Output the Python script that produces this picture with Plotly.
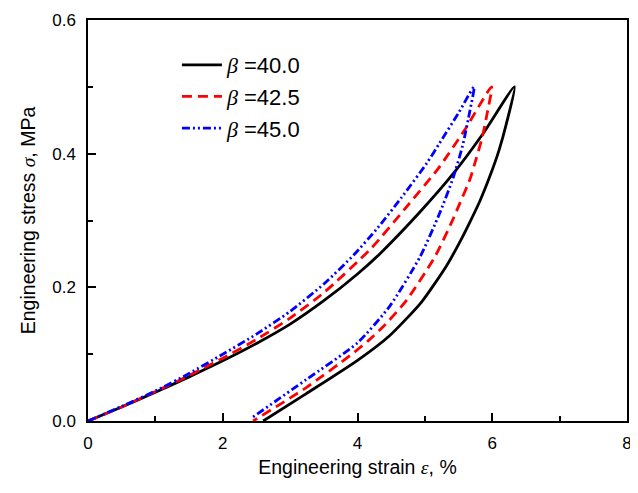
import plotly.graph_objects as go

# ---- data (engineering strain %, engineering stress MPa) ----
labels = ["40.0", "42.5", "45.0"]

# beta = 40.0
b40_load_x = [0, 0.5, 1, 1.5, 2, 2.5, 3, 3.5, 4.0, 4.33, 4.93, 5.42, 5.87, 6.33]
b40_load_y = [0, 0.021, 0.043, 0.066, 0.090, 0.116, 0.145, 0.180, 0.220, 0.250, 0.313, 0.370, 0.431, 0.500]
b40_unld_x = [6.33, 6.21, 6.10, 5.96, 5.82, 5.67, 5.52, 5.32, 4.95, 4.48, 3.99, 3.24, 2.60]
b40_unld_y = [0.500, 0.445, 0.405, 0.365, 0.330, 0.298, 0.268, 0.232, 0.178, 0.128, 0.090, 0.041, 0.0]

# beta = 42.5
b425_load_x = [0, 0.5, 1, 1.5, 2, 2.5, 3, 3.5, 4.2, 4.7, 5.2, 5.6, 5.99]
b425_load_y = [0, 0.021, 0.044, 0.068, 0.094, 0.122, 0.154, 0.192, 0.258, 0.317, 0.378, 0.437, 0.500]
b425_unld_x = [5.99, 5.92, 5.85, 5.74, 5.67, 5.52, 5.40, 5.15, 4.73, 4.38, 4.17, 3.89, 3.24, 2.45]
b425_unld_y = [0.500, 0.458, 0.424, 0.385, 0.362, 0.326, 0.298, 0.246, 0.181, 0.141, 0.121, 0.098, 0.050, 0.0]

# beta = 45.0
b45_load_x = [0, 0.5, 1, 1.5, 2, 2.5, 3, 3.5, 3.94, 4.3, 4.65, 5.03, 5.22, 5.5, 5.73]
b45_load_y = [0, 0.022, 0.045, 0.071, 0.100, 0.130, 0.164, 0.205, 0.248, 0.289, 0.334, 0.386, 0.416, 0.461, 0.500]
b45_unld_x = [5.73, 5.67, 5.56, 5.42, 5.22, 4.93, 4.48, 4.0, 3.24, 2.42]
b45_unld_y = [0.500, 0.465, 0.412, 0.364, 0.311, 0.246, 0.172, 0.117, 0.062, 0.004]

x_ticks = [0, 2, 4, 6, 8]
y_ticks = [0.0, 0.2, 0.4, 0.6]

series = [
    (labels[0], b40_load_x + b40_unld_x[1:], b40_load_y + b40_unld_y[1:], "black", "solid"),
    (labels[1], b425_load_x + b425_unld_x[1:], b425_load_y + b425_unld_y[1:], "#ff0000", "10px,6px"),
    (labels[2], b45_load_x + b45_unld_x[1:], b45_load_y + b45_unld_y[1:], "#0000ff",
     "8px,3px,2px,3px,2px,3px"),
]

fig = go.Figure()
for i, (lab, xs, ys, col, dash) in enumerate(series):
    fig.add_trace(go.Scatter(
        x=xs, y=ys, mode="lines",
        name="<span style='font-family:Liberation Serif'><i>β</i></span> =" + lab,
        line=dict(color=col, width=2.8, dash=dash, shape="spline", smoothing=0.6),
    ))

# the page body adds an 8px offset, so the figure is 8px smaller and margins compensate
font_fam = "Liberation Sans, Arial, sans-serif"
fig.update_layout(
    width=630, height=485,
    margin=dict(l=80, r=11, t=12, b=72),
    paper_bgcolor="white", plot_bgcolor="white",
    font=dict(family=font_fam, size=17, color="black"),
    showlegend=True,
    legend=dict(x=0.165, y=0.94, xanchor="left", yanchor="top",
                bgcolor="rgba(0,0,0,0)", font=dict(size=22, family=font_fam),
                tracegroupgap=0, itemwidth=40),
)
fig.update_xaxes(
    range=[0, 8], tickvals=x_ticks, ticktext=[str(v) for v in x_ticks],
    ticks="inside", ticklen=8, tickwidth=1.5, tickcolor="black", ticklabelstandoff=6,
    minor=dict(dtick=1, ticks="inside", ticklen=5, tickwidth=1.5, tickcolor="black"),
    showline=True, linewidth=1.5, linecolor="black", mirror=True,
    showgrid=False, zeroline=False, automargin=False,
    title=dict(text="Engineering strain <span style='font-family:Liberation Serif'><i>ε</i></span>, %",
               font=dict(size=19.5), standoff=8),
)
fig.update_yaxes(
    range=[0, 0.6], tickvals=y_ticks, ticktext=[f"{v:.1f}" for v in y_ticks],
    ticks="inside", ticklen=8, tickwidth=1.5, tickcolor="black", ticklabelstandoff=7,
    minor=dict(dtick=0.1, ticks="inside", ticklen=5, tickwidth=1.5, tickcolor="black"),
    showline=True, linewidth=1.5, linecolor="black", mirror=True,
    showgrid=False, zeroline=False, automargin=False,
    title=dict(text="Engineering stress <span style='font-family:Liberation Serif'><i>σ</i></span>, MPa",
               font=dict(size=19.5), standoff=11),
)

fig.write_html("out.html")
